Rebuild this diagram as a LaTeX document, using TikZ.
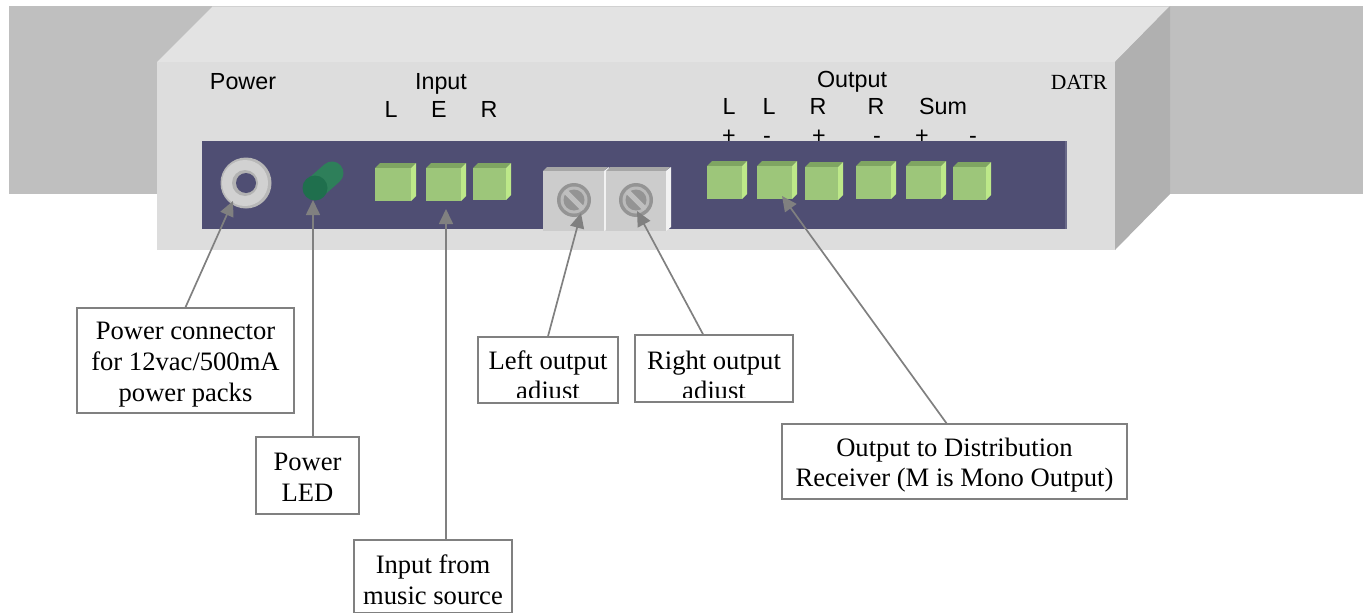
\documentclass[tikz,border=0pt]{standalone}
\usepackage{fontspec}
\setmainfont{Liberation Serif}
\newfontfamily\arialf{Liberation Sans}
\usetikzlibrary{arrows.meta}
\definecolor{bandc}{HTML}{BFBFBF}
\definecolor{topc}{HTML}{E3E3E3}
\definecolor{frontc}{HTML}{DDDDDD}
\definecolor{sidec}{HTML}{B0B0B0}
\definecolor{panelc}{HTML}{4F4E73}
\definecolor{grf}{HTML}{9DC67A}
\definecolor{grt}{HTML}{7FA562}
\definecolor{grr}{HTML}{BDE889}
\definecolor{arrc}{HTML}{808080}
\definecolor{ledbody}{HTML}{2E7F5A}
\definecolor{ledface}{HTML}{1F6F4D}
\newcommand{\grbox}[4]{%
  \fill[grt] (#1,#2) -- (#1+5,#2-5) -- (#3+5,#2-5) -- (#3,#2) -- cycle;
  \fill[grr] (#3,#2) -- (#3+5,#2-5) -- (#3+5,#4-5) -- (#3,#4) -- cycle;
  \fill[grf] (#1,#2) rectangle (#3,#4);
}
\newcommand{\potbox}[2]{%
  \fill[black!35] (#1,171) -- (#1+4,167) -- (#2+4,167) -- (#2,171) -- cycle;
  \fill[white!90!gray] (#2,171) -- (#2+5,167) -- (#2+5,227) -- (#2,231) -- cycle;
  \fill[black!20] (#1,171) rectangle (#2,231);
}
\newcommand{\screw}[2]{%
  \fill[black!42] (#1,#2) circle[radius=17];
  \fill[black!27] (#1,#2) circle[radius=13.5];
  \fill[black!42] (#1,#2) circle[radius=10.5];
  \draw[black!25,line width=5pt] (#1-9,#2-9) -- (#1+9,#2+9);
}
\tikzset{
  x=1pt,y=-1pt,
  sanslab/.style={anchor=base,inner sep=0pt,font=\arialf\fontsize{23.3}{23.3}\selectfont},
  labelbox/.style={draw=arrc,line width=1.5pt,fill=white,inner sep=0pt},
  boxtext/.style={inner sep=0pt,align=center,font=\fontsize{26.6}{30.7}\selectfont},
  callout/.style={draw=arrc,line width=1.7pt,-{Triangle[length=15pt,width=14pt]}},
}
\begin{document}
\begin{tikzpicture}
\useasboundingbox (0,0) rectangle (1363,613);
% wall band
\fill[bandc] (9,6) rectangle (1363,194);
% enclosure
\fill[topc] (157,62) -- (213,6) -- (1170,6) -- (1115,62) -- cycle;
\draw[black!18,line width=.8pt] (213,6) -- (1170,6);
\fill[sidec] (1115,62) -- (1170,6) -- (1170,194) -- (1115,250) -- cycle;
\fill[frontc] (157,62) rectangle (1115,250);
% texts on the front
\node[sanslab] (tpower) at (243,89) {Power};
\node[sanslab] (tinput) at (441,89) {Input};
\node[sanslab] (til) at (391,117) {L};
\node[sanslab] (tie) at (439,117) {E};
\node[sanslab] (tir) at (489,117) {R};
\node[sanslab] (toutput) at (852,87) {Output};
\node[sanslab] (tol1) at (729,114) {L};
\node[sanslab] (tol2) at (769,114) {L};
\node[sanslab] (tor1) at (818,114) {R};
\node[sanslab] (tor2) at (876,114) {R};
\node[sanslab] (tsum) at (943,114) {Sum};
\node[sanslab] (pa) at (729,143) {+};
\node[sanslab] (pb) at (767,143) {-};
\node[sanslab] (pc) at (819,143) {+};
\node[sanslab] (pd) at (877,143) {-};
\node[sanslab] (pe) at (922,143) {+};
\node[sanslab] (pf) at (973,143) {-};
\node[anchor=base,inner sep=0pt,font=\fontsize{21.6}{21.6}\selectfont] (tdatr) at (1079,89) {DATR};
% panel
\fill[panelc] (202,141) rectangle (1067,229);
\fill[panelc!85!white] (1065,141) rectangle (1067,229);
% power jack
\fill[black!28] (246,183) circle[radius=25.5];
\fill[black!18] (245,183) circle[radius=23];
\fill[black!30] (245,183) circle[radius=13];
\fill[panelc] (246,183) circle[radius=10];
% LED
\draw[line width=23pt,color=ledbody,line cap=round] (315,188) -- (332,173);
\fill[ledface] (315,188) circle[radius=12.5];
% input sockets
\grbox{375}{168}{411}{201}
\grbox{426}{168}{461}{201}
\grbox{473}{168}{506}{200}
% trimmers
\potbox{543}{604}
\potbox{606}{666}
\screw{574}{200}
\screw{636}{200}
% output sockets
\grbox{707}{166}{742}{199}
\grbox{757}{166}{792}{199}
\grbox{805}{167}{838}{200}
\grbox{856}{166}{891}{199}
\grbox{906}{166}{941}{199}
\grbox{953}{167}{986}{200}
% free ends of the connectors
\coordinate (tipjack) at (233,201);
\coordinate (tipled) at (313,200);
\coordinate (tipinput) at (446,209);
\coordinate (tipleft) at (581,213);
\coordinate (tipright) at (637,211);
\coordinate (tipout) at (782,196);
% boxes
\node[labelbox,minimum width=217pt,minimum height=105pt] (bpower) at (185.5,360.5) {};
\node[boxtext] (tbpower) at ([yshift=-4pt]bpower.center) {Power connector\\for 12vac/500mA\\power packs};
\node[labelbox,minimum width=103pt,minimum height=77pt] (bled) at (307.5,475.5) {};
\node[boxtext] (tbled) at ([yshift=-2pt]bled.center) {Power\\LED};
\node[labelbox,minimum width=158pt,minimum height=73pt] (binput) at (433,576.5) {};
\node[boxtext] (tbinput) at ([yshift=-3pt]binput.center) {Input from\\music source};
\node[labelbox,minimum width=140pt,minimum height=66pt] (bleft) at (548,370) {};
\node[labelbox,minimum width=158pt,minimum height=67pt] (bright) at (714,368.5) {};
\node[labelbox,minimum width=345pt,minimum height=75pt] (boutput) at (954.5,461.5) {};
\node[boxtext] (tboutput) at ([yshift=-3.5pt]boutput.center) {Output to Distribution\\Receiver (M is Mono Output)};
\begin{scope}
  \clip (479,338) rectangle (617,397);
  \node[boxtext] (tleft) at (548,378) {Left output\\adjust};
\end{scope}
\begin{scope}
  \clip (636,336) rectangle (792,397);
  \node[boxtext] (tright) at (714,378) {Right output\\adjust};
\end{scope}
% connectors
\draw[callout] (bpower.north) -- (tipjack);
\draw[callout] (bled.north -| tipled) -- (tipled);
\draw[callout] (binput.north -| tipinput) -- (tipinput);
\draw[callout] (bleft.north) -- (tipleft);
\draw[callout] ([xshift=-11pt]bright.north) -- (tipright);
\draw[callout] ([xshift=-8pt]boutput.north) -- (tipout);
\end{tikzpicture}
\end{document}
